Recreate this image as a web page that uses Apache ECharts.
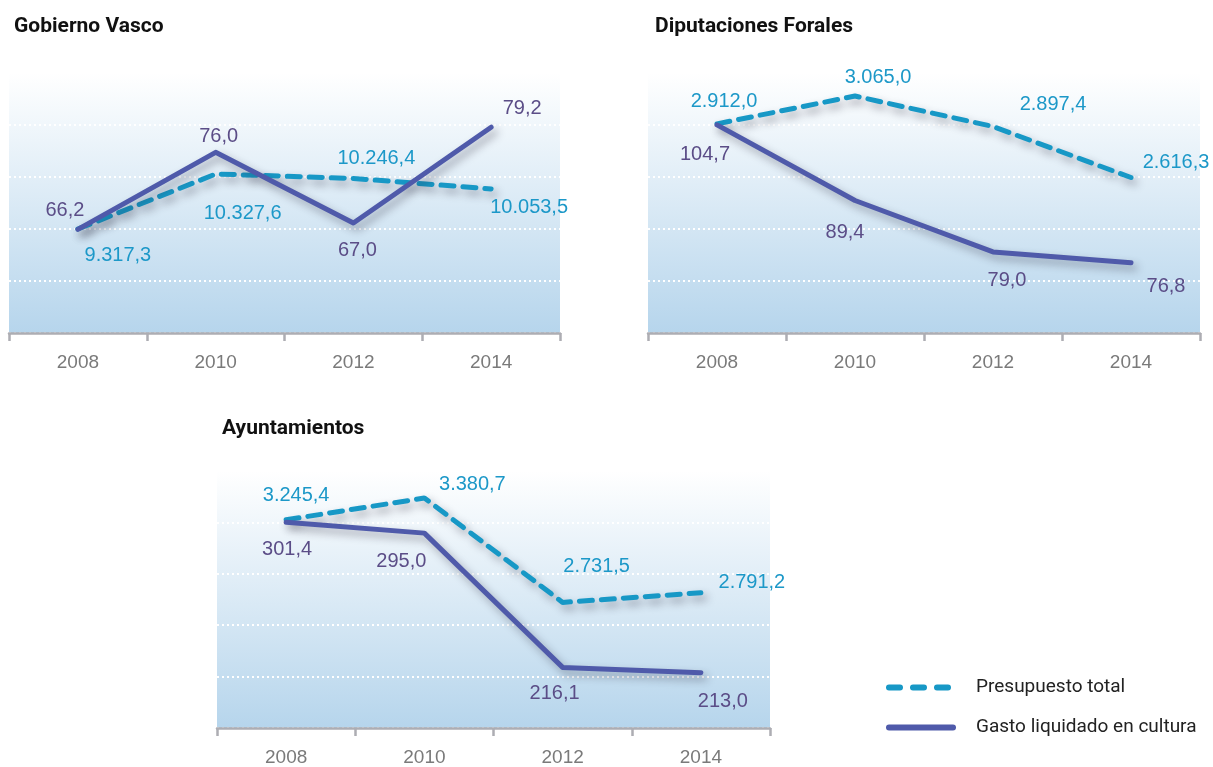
<!DOCTYPE html>
<html>
<head>
<meta charset="utf-8">
<script src="https://cdn.jsdelivr.net/npm/echarts@6/dist/echarts.min.js"></script>
<style>
  html, body { margin: 0; padding: 0; background: #fff; }
  #main { width: 1213px; height: 767px; }
</style>
</head>
<body>
<div id="main"></div>
<script>
var years = ['2008', '2010', '2012', '2014'];
var panelTitles = ['Gobierno Vasco', 'Diputaciones Forales', 'Ayuntamientos'];
var seriesNames = ['Presupuesto total', 'Gasto liquidado en cultura'];

// millones de euros
var gvPresupuesto = [9317.3, 10327.6, 10246.4, 10053.5];
var gvGasto = [66.2, 76.0, 67.0, 79.2];
var dfPresupuesto = [2912.0, 3065.0, 2897.4, 2616.3];
var dfGasto = [104.7, 89.4, 79.0, 76.8];
var ayPresupuesto = [3245.4, 3380.7, 2731.5, 2791.2];
var ayGasto = [301.4, 295.0, 216.1, 213.0];

var presupuestos = [gvPresupuesto, dfPresupuesto, ayPresupuesto];
var gastos = [gvGasto, dfGasto, ayGasto];

// layout
var grids = [
  {left: 9, top: 73, width: 551, height: 260},
  {left: 648, top: 73, width: 552, height: 260},
  {left: 217, top: 471, width: 553, height: 259}
];
var titlePos = [[9, 11], [650, 11], [217, 413]];
var presRange = [[7407, 12183], [1760, 3192], [1950, 3549]];
var gastoRange = [[53, 86.1], [62.6, 115.2], [180.5, 331.5]];
var presOffsets = [
  [[40, 26], [27, 39], [23, -20], [38, 19]],
  [[7, -22], [23, -19], [60, -22], [45, -15]],
  [[10, -24], [48, -14], [34, -36], [51, -10]]
];
var gastoOffsets = [
  [[-13, -19], [3, -16], [4, 27], [31, -19]],
  [[-12, 30], [-10, 32], [14, 29], [35, 24]],
  [[1, 27], [-23, 28], [-8, 26], [22, 29]]
];

var cPres = '#1798c6', cGasto = '#4f5aaa';
var cPresLbl = '#1c98c8', cGastoLbl = '#5b4d87';
var condFont = 'Roboto, "Liberation Sans", sans-serif';
var textFont = '"Liberation Sans", Arial, sans-serif';

function fmt(v) {
  var s = v.toFixed(1).split('.');
  return s[0].replace(/\B(?=(\d{3})+(?!\d))/g, '.') + ',' + s[1];
}

var shadow = {shadowColor: 'rgba(40,40,60,0.4)', shadowBlur: 8, shadowOffsetX: 4, shadowOffsetY: 5};

var option = {
  animation: false,
  title: [], grid: [], xAxis: [], yAxis: [], series: [],
  legend: {
    orient: 'vertical', left: 881, top: 673,
    itemWidth: 64, itemHeight: 18, itemGap: 21,
    data: [
      {name: seriesNames[0], lineStyle: {type: [11, 13]}},
      {name: seriesNames[1], lineStyle: {type: 'solid'}}
    ],
    itemStyle: {opacity: 0},
    lineStyle: {width: 6, shadowBlur: 0, shadowOffsetX: 0, shadowOffsetY: 0, shadowColor: 'rgba(0,0,0,0)'},
    textStyle: {fontFamily: condFont, fontSize: 19, color: '#222', padding: [0, 0, 0, 18]}
  }
};

for (var p = 0; p < 3; p++) {
  option.title.push({
    text: panelTitles[p], left: titlePos[p][0], top: titlePos[p][1],
    textStyle: {fontFamily: condFont, fontWeight: 'bold', fontSize: 21, color: '#111'}
  });
  option.grid.push({
    left: grids[p].left, top: grids[p].top, width: grids[p].width, height: grids[p].height,
    show: true, borderWidth: 0,
    backgroundColor: new echarts.graphic.LinearGradient(0, 0, 0, 1, [
      {offset: 0, color: '#ffffff'}, {offset: 1, color: '#b6d5ec'}
    ])
  });
  option.xAxis.push({
    type: 'category', gridIndex: p, data: years, boundaryGap: true,
    axisLine: {lineStyle: {color: '#adadb3', width: 2.5}},
    axisTick: {show: true, length: 8, lineStyle: {color: '#adadb3', width: 2.5}},
    axisLabel: {color: '#7a7a7a', fontSize: 19, margin: 20, fontFamily: textFont}
  });
  option.yAxis.push({
    type: 'value', gridIndex: p, min: presRange[p][0], max: presRange[p][1],
    axisLine: {show: false}, axisTick: {show: false}, axisLabel: {show: false}, splitLine: {show: false}
  });
  option.yAxis.push({
    type: 'value', gridIndex: p, min: gastoRange[p][0], max: gastoRange[p][1],
    interval: (gastoRange[p][1] - gastoRange[p][0]) / 5,
    axisLine: {show: false}, axisTick: {show: false}, axisLabel: {show: false},
    splitLine: {show: true, lineStyle: {color: '#ffffff', width: 2, type: [2, 3]}}
  });
  option.series.push({
    name: seriesNames[0], type: 'line', xAxisIndex: p, yAxisIndex: 2 * p,
    symbol: 'circle', symbolSize: 0, z: 3,
    itemStyle: {color: cPres},
    lineStyle: Object.assign({color: cPres, width: 5, type: [13, 9], cap: 'round'}, shadow),
    label: {show: true, position: 'inside', color: cPresLbl, fontSize: 20, fontFamily: textFont,
      formatter: function (d) { return fmt(d.value); }},
    data: presupuestos[p].map(function (v, i) { return {value: v, label: {offset: presOffsets[p][i]}}; })
  });
  option.series.push({
    name: seriesNames[1], type: 'line', xAxisIndex: p, yAxisIndex: 2 * p + 1,
    symbol: 'circle', symbolSize: 0, z: 4,
    itemStyle: {color: cGasto},
    lineStyle: Object.assign({color: cGasto, width: 5, cap: 'round', join: 'round'}, shadow),
    label: {show: true, position: 'inside', color: cGastoLbl, fontSize: 20, fontFamily: textFont,
      formatter: function (d) { return fmt(d.value); }},
    data: gastos[p].map(function (v, i) { return {value: v, label: {offset: gastoOffsets[p][i]}}; })
  });
}

var myChart = echarts.init(document.getElementById('main'));
myChart.setOption(option);
</script>
</body>
</html>
